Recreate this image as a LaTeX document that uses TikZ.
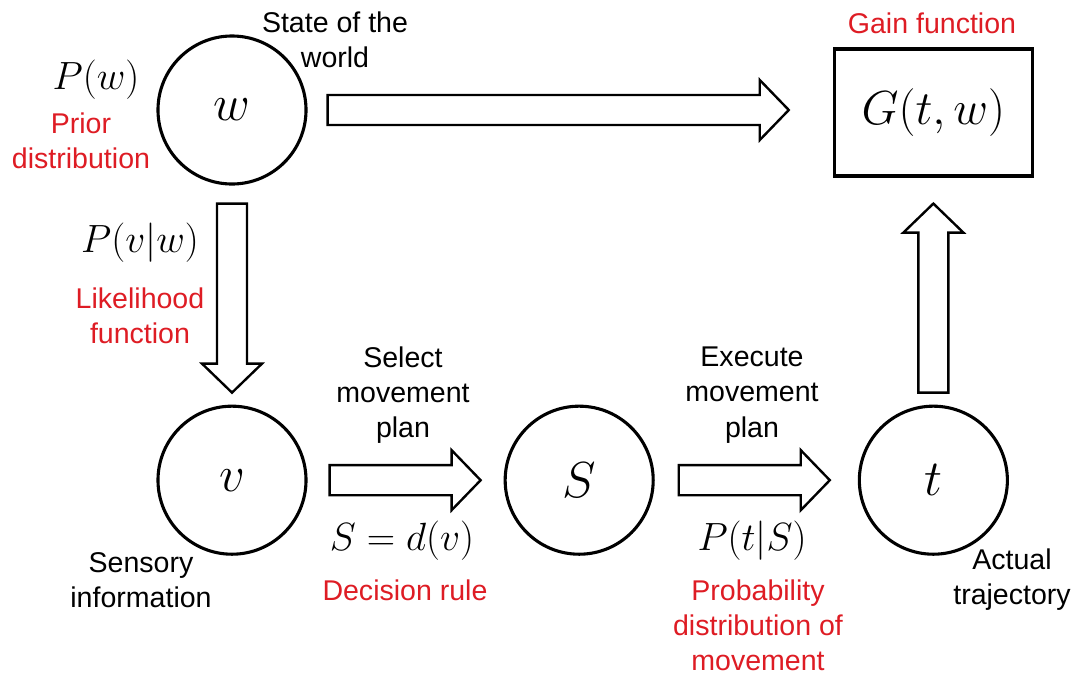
\RequirePackage{fix-cm}
\documentclass[tikz,border=0pt]{standalone}
\usepackage{fontspec}
\setmainfont{Liberation Sans}
\usepackage{xcolor}
\usepackage{tikz}
\usetikzlibrary{positioning, calc}

\definecolor{labelred}{RGB}{222,28,36}

% hollow block arrow from #1 to #2 (tip at #2)
\newcommand{\fatarrow}[2]{%
  \coordinate (hb) at ($(#2)!0.725cm!(#1)$);
  \draw[fat] ($(#1)!0.375cm!90:(#2)$) -- ($(hb)!0.375cm!90:(#2)$)
    -- ($(hb)!0.75cm!90:(#2)$) -- (#2) -- ($(hb)!0.75cm!-90:(#2)$)
    -- ($(hb)!0.375cm!-90:(#2)$) -- ($(#1)!0.375cm!-90:(#2)$) -- cycle;}

\begin{document}
\begin{tikzpicture}[x=0.025cm, y=-0.025cm,
    stt/.style={draw, circle, line width=2.2pt, minimum size=3.7cm, inner sep=0pt, font=\fontsize{36}{40}\selectfont},
    gbox/.style={draw, rectangle, line width=2.2pt, minimum width=4.95cm, minimum height=3.175cm, font=\fontsize{34}{38}\selectfont},
    fat/.style={draw, fill=white, line width=1.7pt, line join=miter},
    lbl/.style={align=center, inner sep=0pt, font=\fontsize{20.3}{25}\selectfont},
    redlbl/.style={lbl, text=labelred},
    mlbl/.style={inner sep=0pt, font=\fontsize{28}{32}\selectfont}]
    \useasboundingbox (0,0) rectangle (1078,679);

    	\node[stt] (w) at (232,110) {$w$};
    	\node[stt] (v) [below=5.475cm of w] {$v$};
    	\node[stt] (S) [right=4.9cm of v] {$S$};
    	\node[stt] (t) [right=5.075cm of S] {$t$};
    	\node[gbox] (G) [above=5.675cm of t] {$G(t,w)$};

    % arrow ends
    	\coordinate (wG-a) at ([xshift=0.5cm]w.east);
    	\coordinate (wG-b) at ($(G.west |- wG-a)+(-1.1cm,0)$);
    	\coordinate (wv-a) at ([yshift=-0.45cm]w.south);
    	\coordinate (wv-b) at ([yshift=0.3cm]v.north);
    	\coordinate (vS-a) at ([xshift=0.55cm]v.east);
    	\coordinate (vS-b) at ([xshift=-0.575cm]S.west);
    	\coordinate (St-a) at ([xshift=0.6cm]S.east);
    	\coordinate (St-b) at ([xshift=-0.7cm]t.west);
    	\coordinate (tG-a) at ([yshift=0.3cm]t.north);
    	\coordinate (tG-b) at ([yshift=-0.65cm]G.south);

    	\fatarrow{wG-a}{wG-b}
    	\fatarrow{wv-a}{wv-b}
    	\fatarrow{vS-a}{vS-b}
    	\fatarrow{St-a}{St-b}
    	\fatarrow{tG-a}{tG-b}

    % labels
    	\node[lbl] (world) at (335,40) {State of the\\world};
    	\node[mlbl] (pw) at (96,80) {$P(w)$};
    	\node[redlbl] (prior) at (81,141) {Prior\\distribution};
    	\node[redlbl] (gain) at (932,23) {Gain function};
    	\node[mlbl] (pvw) at (140,243) {$P(v|w)$};
    	\node[redlbl] (lik) at (140,316) {Likelihood\\function};
    	\node[lbl] (select) at (403,395) {Select\\movement\\plan};
    	\node[mlbl] (dv) at (402,541) {$S=d(v)$};
    	\node[redlbl] (rule) at (405,590) {Decision rule};
    	\node[lbl] (exec) at (752,395) {Execute\\movement\\plan};
    	\node[mlbl] (pts) at (752,541) {$P(t|S)$};
    	\node[redlbl] (prob) at (758,625) {Probability\\distribution of\\movement};
    	\node[lbl] (sens) at (141,580) {Sensory\\information};
    	\node[lbl] (traj) at (1012,580) {Actual\\trajectory};

\end{tikzpicture}
\end{document}
